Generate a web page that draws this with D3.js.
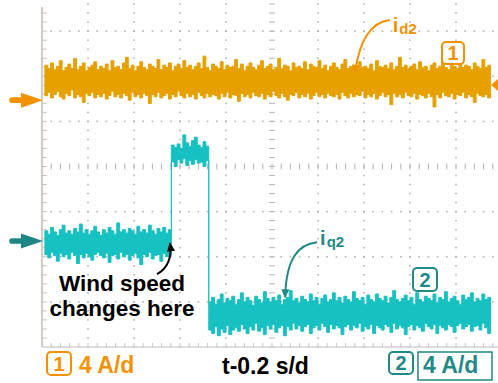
<!DOCTYPE html>
<html>
<head>
<meta charset="utf-8">
<script src="https://cdn.jsdelivr.net/npm/d3@7"></script>
<style>
  html, body { margin: 0; padding: 0; background: #fff; }
  svg { display: block; font-family: "Liberation Sans", Arial, sans-serif; font-weight: bold; }
</style>
</head>
<body>
<svg id="scope" width="498" height="383"></svg>
<script>
// ---- acquisition settings ----
const sampleStep = 0.0125;   // s between stored samples
const timePerDiv = 0.2;      // s/div
const ampPerDiv = 4;         // A/div (both channels)
const ch1Offset = 1.47;      // ground marker of channel 1, in divisions from centre
const ch2Offset = -1.65;     // ground marker of channel 2, in divisions from centre
const triggerLevel = 1.35;   // A, channel 1 trigger

// ---- channel 1: i_d2, per-sample max / min (A) ----
const id2Upper = [
  3.1,2.8,3.3,2.7,3.0,3.5,2.6,2.9,3.2,2.8,3.7,2.7,3.0,3.3,2.6,2.9,3.1,3.4,2.7,3.0,
  2.8,3.2,2.6,3.5,2.9,3.0,2.7,3.3,3.8,2.8,3.1,2.6,3.0,3.4,2.9,2.7,3.2,3.0,2.8,3.6,
  2.7,3.1,2.9,3.3,2.6,3.0,3.2,2.8,3.5,2.9,3.1,2.7,3.0,3.3,2.8,3.9,2.9,2.6,3.2,3.0,
  2.8,3.4,2.7,3.1,2.9,3.0,3.6,2.8,3.2,2.6,3.0,3.3,2.9,2.7,3.1,3.5,2.8,3.0,3.2,2.7,
  2.9,3.7,2.8,3.1,3.0,2.6,3.3,2.9,3.0,2.8,3.4,2.7,3.2,3.0,2.9,3.5,2.8,3.1,2.6,3.0,
  3.3,2.9,2.7,3.2,3.6,2.8,3.0,3.1,2.7,3.4,2.9,3.0,2.8,3.2,2.6,3.5,3.0,2.9,3.1,2.8,
  3.3,2.7,3.0,3.8,2.9,3.1,2.8,3.0,3.2,2.7,3.4,2.9,3.0,2.6,3.1,3.3,2.8,3.0,3.5,2.9,
  2.7,3.2,3.0,2.8,3.4,2.9,3.1,3.0,2.7,3.3,3.0,2.8,3.6,2.9,3.1,3.0
];
const id2Lower = [
  0.4,0.7,0.2,0.5,0.8,0.3,0.1,0.6,0.4,0.9,0.2,0.5,0.3,-0.2,0.6,0.4,0.7,0.2,0.5,0.3,
  0.6,0.1,0.4,0.8,0.3,0.5,0.2,0.6,0.4,0.0,0.7,0.3,0.5,0.2,0.6,0.4,-0.3,0.5,0.3,0.7,
  0.2,0.4,0.6,0.1,0.5,0.3,0.8,0.4,0.2,0.6,0.3,0.5,0.1,0.7,0.4,0.2,0.6,0.3,0.5,0.4,
  0.1,0.6,0.3,0.7,0.2,0.5,0.4,-0.1,0.6,0.3,0.5,0.2,0.7,0.4,0.3,0.6,0.1,0.5,0.3,0.8,
  0.4,0.2,0.6,0.3,0.0,0.5,0.4,0.7,0.2,0.5,0.3,0.6,0.1,0.4,0.7,0.3,0.5,0.2,0.6,0.4,
  0.3,0.5,0.1,0.7,0.4,0.2,0.6,0.3,0.5,0.4,0.8,0.2,0.5,0.3,0.6,0.1,0.4,0.7,0.3,0.5,
  -0.4,0.6,0.3,0.5,0.2,0.7,0.4,0.3,0.6,0.1,0.5,0.4,0.2,0.6,0.3,-0.6,0.5,0.2,0.7,0.4,
  0.3,0.6,0.1,0.5,0.4,0.7,0.2,0.5,0.3,-0.2,0.6,0.4,0.3,0.5,0.2,0.6
];

// ---- channel 2: i_q2, per-sample max / min (A) ----
const iq2Upper = [
  // before the wind step
  0.9,0.6,1.2,0.8,0.5,1.0,1.4,0.7,0.9,0.6,1.1,0.8,1.5,0.7,1.0,0.6,0.9,1.3,0.8,0.5,
  1.0,0.7,1.2,0.9,0.6,1.6,0.8,1.0,0.7,1.1,0.9,0.6,1.3,0.8,1.0,0.7,1.4,0.9,0.6,1.1,
  0.8,1.2,0.7,1.0,
  // transient peak
  8.5,8.3,8.6,8.2,9.4,8.7,8.4,8.9,9.2,8.5,8.3,8.8,8.4,
  // new operating point
  -5.4,-5.0,-5.6,-5.2,-4.7,-5.5,-5.1,-5.3,-4.9,-5.6,
  -5.2,-4.6,-5.4,-5.0,-5.3,-5.7,-4.9,-5.2,-5.5,-4.5,
  -5.1,-5.4,-5.0,-5.3,-4.8,-5.6,-5.2,-5.0,-4.4,-5.3,
  -5.1,-5.5,-4.9,-5.2,-5.4,-4.7,-5.3,-5.0,-5.6,-5.1,
  -4.8,-5.4,-5.2,-4.6,-5.3,-5.0,-5.5,-4.9,-5.2,-5.4,
  -4.5,-5.1,-5.3,-5.0,-5.6,-4.8,-5.2,-5.4,-4.7,-5.1,
  -5.3,-4.9,-5.5,-5.0,-4.4,-5.2,-5.4,-5.1,-4.8,-5.3,
  -5.0,-5.6,-4.6,-5.2,-5.4,-4.9,-5.1,-5.3,-4.7,-5.5,
  -5.0,-5.2,-4.5,-5.4,-5.1,-4.9,-5.3,-5.6,-4.8,-5.2,
  -5.0,-4.6,-5.4,-5.1,-5.3,-4.7,-5.2,-5.0,-5.5
];
const iq2Lower = [
  -1.2,-1.5,-1.0,-1.3,-1.8,-1.1,-1.4,-1.2,-1.6,-1.0,-1.3,-2.0,-1.2,-1.5,-1.1,-1.4,-1.7,-1.2,-1.0,-1.3,
  -1.5,-1.1,-1.9,-1.3,-1.2,-1.6,-1.0,-1.4,-1.2,-1.7,-1.3,-1.1,-1.5,-2.1,-1.2,-1.4,-1.0,-1.6,-1.3,-1.2,
  -1.8,-1.1,-1.4,-1.3,
  7.0,6.6,7.2,6.9,7.3,6.7,7.1,6.8,7.2,6.9,7.0,6.6,7.1,
  -7.9,-8.2,-7.6,-8.4,-7.8,-8.1,-7.5,-8.3,-7.9,-7.7,
  -8.0,-7.4,-7.8,-8.2,-7.6,-7.9,-7.3,-8.0,-7.7,-8.3,
  -7.5,-7.8,-7.4,-8.1,-7.7,-7.5,-8.4,-7.6,-7.9,-7.3,
  -7.8,-7.5,-8.0,-7.6,-7.4,-8.2,-7.7,-7.5,-7.9,-7.3,
  -7.6,-8.1,-7.4,-7.8,-7.5,-7.7,-8.3,-7.6,-7.4,-7.9,
  -7.5,-7.7,-7.3,-8.0,-7.6,-7.8,-7.4,-8.2,-7.5,-7.7,
  -7.9,-7.4,-7.6,-8.1,-7.3,-7.8,-7.5,-7.7,-8.3,-7.6,
  -7.4,-7.9,-7.5,-7.7,-8.0,-7.3,-7.6,-7.8,-7.4,-8.2,
  -7.5,-7.7,-7.9,-7.4,-7.6,-8.1,-7.5,-7.3,-7.8,-7.6,
  -7.4,-8.0,-7.6,-7.5,-7.9,-7.3,-7.7,-8.2,-7.5
];

// ---- text ----
const ch1Name = ["i", "d2"];
const ch2Name = ["i", "q2"];
const eventText = ["Wind speed", "changes here"];
const ch1Scale = "4 A/d";
const ch2Scale = "4 A/d";
const timeScale = "t-0.2 s/d";

// ---- colours ----
const ch1Trace = "#E6A100", ch1Ink = "#F39200";
const ch2Trace = "#17C1C1", ch2Ink = "#1F8A87";
const gridInk = "#B4B4B4";

const svg = d3.select("#scope");

// ---- scales: 10 x 8 division screen ----
const nDivX = 10, nDivY = 8;
const x = d3.scaleLinear().domain([0, nDivX * timePerDiv]).range([42, 502]);
const yDiv = d3.scaleLinear().domain([-nDivY / 2, nDivY / 2]).range([347, -14]);
const channelScale = off => d3.scaleLinear()
  .domain([(-nDivY / 2 - off) * ampPerDiv, (nDivY / 2 - off) * ampPerDiv])
  .range(yDiv.range());
const y1 = channelScale(ch1Offset);
const y2 = channelScale(ch2Offset);

// ---- graticule ----
const grid = svg.append("g");
const minorT = d3.range(0, nDivX * 5 + 1).map(k => k * timePerDiv / 5);
const minorD = d3.range(0, nDivY * 5 + 1).map(k => -nDivY / 2 + k / 5);
const visX = t => x(t) <= 498;
const visY = d => yDiv(d) >= 0;

// dotted division lines
d3.range(1, nDivX).filter(k => k !== nDivX / 2).forEach(k => {
  grid.selectAll(null).data(minorD.filter(visY)).join("rect")
    .attr("x", x(k * timePerDiv) - 0.8).attr("y", d => yDiv(d) - 0.8)
    .attr("width", 1.6).attr("height", 1.6).attr("fill", gridInk);
});
d3.range(-nDivY / 2 + 1, nDivY / 2).filter(k => k !== 0).forEach(k => {
  grid.selectAll(null).data(minorT.filter(visX)).join("rect")
    .attr("x", t => x(t) - 0.8).attr("y", yDiv(k) - 0.8)
    .attr("width", 1.6).attr("height", 1.6).attr("fill", gridInk);
});
// centre axes with minor ticks
grid.selectAll(null).data(minorD.filter(visY)).join("line")
  .attr("x1", x(nDivX / 2 * timePerDiv) - 3).attr("x2", x(nDivX / 2 * timePerDiv) + 3)
  .attr("y1", d => yDiv(d)).attr("y2", d => yDiv(d))
  .attr("stroke", gridInk).attr("stroke-width", 1);
grid.selectAll(null).data(minorT.filter(visX)).join("line")
  .attr("x1", t => x(t)).attr("x2", t => x(t))
  .attr("y1", yDiv(0) - 3).attr("y2", yDiv(0) + 3)
  .attr("stroke", gridInk).attr("stroke-width", 1);
// screen frame: left and bottom edges with ticks
grid.append("line").attr("x1", x(0)).attr("x2", x(0)).attr("y1", 7).attr("y2", yDiv(-4))
  .attr("stroke", "#D5CFC3").attr("stroke-width", 2.2);
grid.append("line").attr("x1", x(0)).attr("x2", 498).attr("y1", yDiv(-4)).attr("y2", yDiv(-4))
  .attr("stroke", "#D0D0D0").attr("stroke-width", 1.6);
grid.selectAll(null).data(minorD.filter(d => yDiv(d) >= 8 && d > -4)).join("line")
  .attr("x1", x(0)).attr("x2", x(0) + 5).attr("y1", d => yDiv(d)).attr("y2", d => yDiv(d))
  .attr("stroke", "#C4C4C4").attr("stroke-width", 1);
grid.selectAll(null).data(minorT.filter(t => visX(t) && t > 0)).join("line")
  .attr("x1", t => x(t)).attr("x2", t => x(t)).attr("y1", yDiv(-4)).attr("y2", yDiv(-4) - 4)
  .attr("stroke", "#C4C4C4").attr("stroke-width", 1);

// ---- traces ----
function band(upper, lower) {
  const n = Math.min(upper.length, lower.length);
  return d3.range(n).map(i => ({ t: (i + 1) * sampleStep, hi: upper[i], lo: lower[i] }));
}
function drawTrace(data, ys, colour) {
  const a = d3.area().curve(d3.curveStepAfter)
    .x(d => x(d.t)).y0(d => ys(d.lo)).y1(d => ys(d.hi));
  svg.append("path").attr("d", a(data))
    .attr("fill", colour).attr("stroke", colour).attr("stroke-width", 1)
    .attr("stroke-linejoin", "miter");
}
drawTrace(band(id2Upper, id2Lower), y1, ch1Trace);
drawTrace(band(iq2Upper, iq2Lower), y2, ch2Trace);

// ---- ground markers (left) and trigger marker (right) ----
function groundArrow(yPos, colour) {
  const tip = x(0) + 1;
  const p = d3.path();
  p.moveTo(tip, yPos);
  p.lineTo(tip - 22, yPos - 7.5);
  p.lineTo(tip - 22, yPos - 2.8);
  p.lineTo(tip - 31, yPos - 2.8);
  p.arc(tip - 31, yPos, 2.8, -Math.PI / 2, Math.PI / 2, true);
  p.lineTo(tip - 22, yPos + 2.8);
  p.lineTo(tip - 22, yPos + 7.5);
  p.closePath();
  svg.append("path").attr("d", p.toString()).attr("fill", colour);
}
groundArrow(y1(0), ch1Ink);
groundArrow(y2(0), "#1F8585");
svg.append("path")
  .attr("d", `M491,${y1(triggerLevel)}L498,${y1(triggerLevel) - 6}L498,${y1(triggerLevel) + 6}Z`)
  .attr("fill", ch1Ink);

// ---- annotation arrows ----
const defs = svg.append("defs");
function marker(id, colour) {
  defs.append("marker").attr("id", id).attr("markerUnits", "userSpaceOnUse")
    .attr("viewBox", "0 -5 10 10").attr("refX", 9).attr("refY", 0)
    .attr("markerWidth", 11).attr("markerHeight", 9).attr("orient", "auto")
    .append("path").attr("d", "M0,-4.5L10,0L0,4.5Z").attr("fill", colour);
}
marker("headOrange", ch1Ink);
marker("headTeal", ch2Ink);
marker("headBlack", "#000");

function curvedArrow(tip, s, c1, c2, colour, head) {
  const p = d3.path();
  p.moveTo(tip[0] + s[0], tip[1] + s[1]);
  p.bezierCurveTo(tip[0] + c1[0], tip[1] + c1[1], tip[0] + c2[0], tip[1] + c2[1], tip[0], tip[1]);
  svg.append("path").attr("d", p.toString()).attr("fill", "none")
    .attr("stroke", colour).attr("stroke-width", 2).attr("marker-end", `url(#${head})`);
}
function subLabel(pos, parts, colour) {
  const t = svg.append("text").attr("x", pos[0]).attr("y", pos[1]).attr("fill", colour);
  t.append("tspan").attr("font-size", 20).text(parts[0]);
  t.append("tspan").attr("font-size", 15).attr("dx", 1).attr("dy", 2).text(parts[1]);
}

// i_d2
const tipD = [x(1.36), y1(2.4)];
curvedArrow(tipD, [35, -53], [17, -51], [5, -35], ch1Ink, "headOrange");
subLabel([tipD[0] + 38, tipD[1] - 41], ch1Name, ch1Ink);

// i_q2
const tipQ = [x(1.057), y2(-5.0)];
curvedArrow(tipQ, [32, -55], [13, -53], [1, -39], ch2Ink, "headTeal");
subLabel([tipQ[0] + 35, tipQ[1] - 52], ch2Name, ch2Ink);

// wind speed step
const tipW = [x(0.5565), y2(-0.2)];
curvedArrow(tipW, [-13, 31], [-2, 25], [2, 15], "#000", "headBlack");
svg.append("text").attr("text-anchor", "middle").attr("font-size", 22.5).attr("fill", "#000")
  .selectAll("tspan").data(eventText).join("tspan")
  .attr("x", tipW[0] - 48).attr("y", (d, i) => tipW[1] + 48 + i * 25).text(d => d);

// ---- channel badges ----
function badge(bx, by, w, h, label, colour) {
  svg.append("rect").attr("x", bx).attr("y", by).attr("width", w).attr("height", h)
    .attr("rx", 4).attr("fill", "#fff").attr("stroke", colour).attr("stroke-width", 2);
  svg.append("text").attr("x", bx + w / 2).attr("y", by + h / 2 + 7)
    .attr("text-anchor", "middle").attr("font-size", 20).attr("fill", colour).text(label);
}
badge(442, 42, 22, 22, "1", ch1Ink);
badge(413, 268, 24, 23, "2", ch2Ink);

// ---- bottom status line ----
badge(47, 352, 24, 23, "1", ch1Ink);
svg.append("text").attr("x", 79).attr("y", 373).attr("font-size", 23).attr("fill", ch1Ink).text(ch1Scale);
svg.append("text").attr("x", 222).attr("y", 374).attr("font-size", 23).attr("fill", "#000").text(timeScale);
badge(389, 352, 24, 22, "2", ch2Ink);
svg.append("rect").attr("x", 418).attr("y", 352).attr("width", 74).attr("height", 28)
  .attr("fill", "none").attr("stroke", ch2Ink).attr("stroke-width", 1.5);
svg.append("text").attr("x", 423).attr("y", 373).attr("font-size", 23).attr("fill", ch2Ink).text(ch2Scale);
</script>
</body>
</html>
